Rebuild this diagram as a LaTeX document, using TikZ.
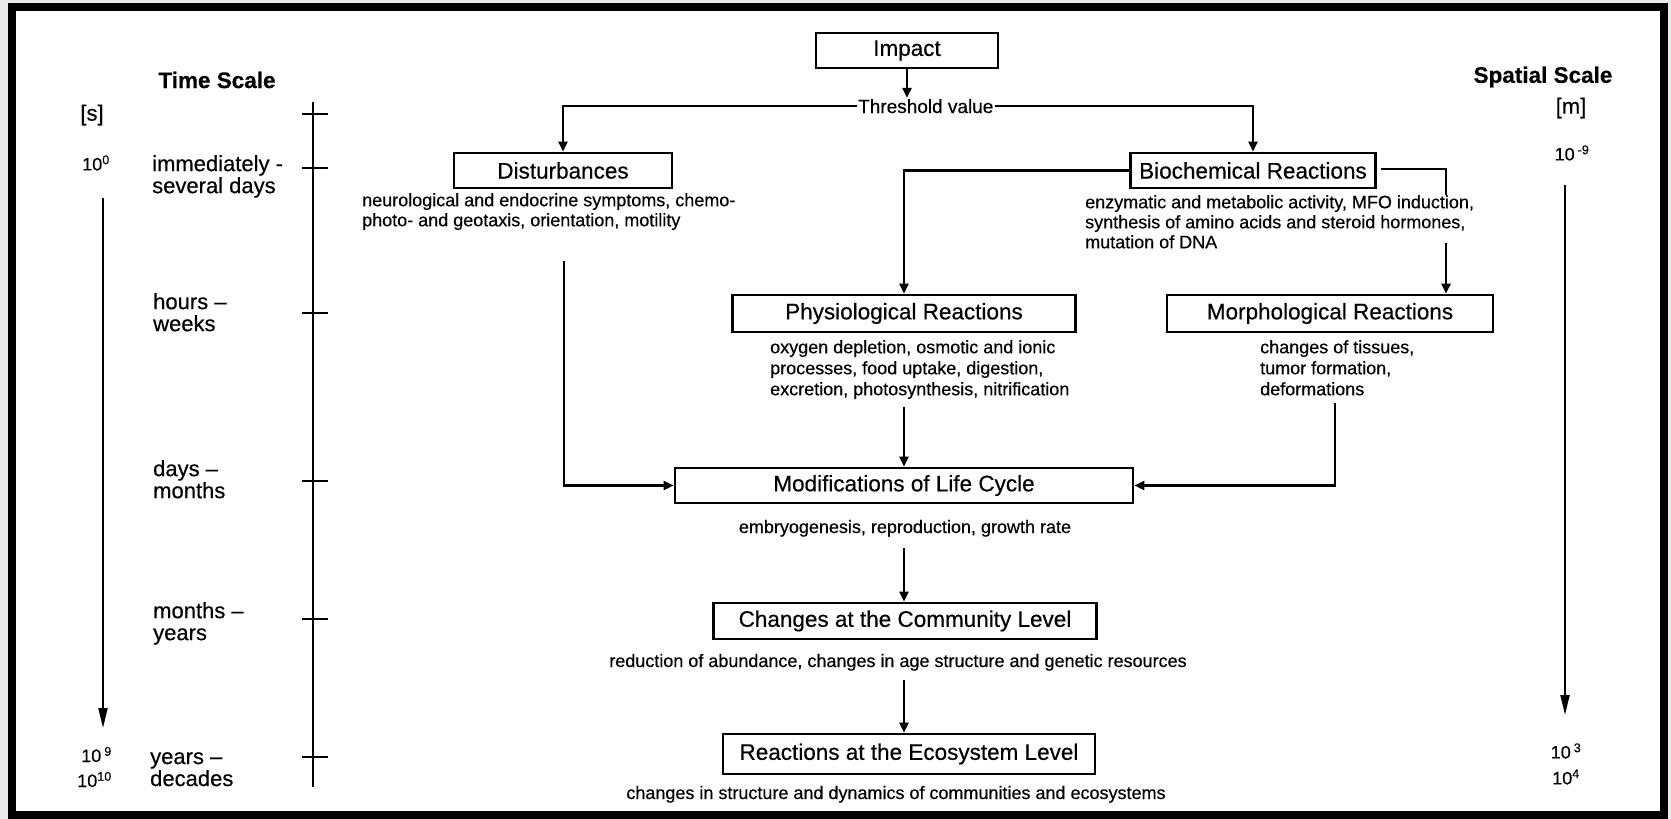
\documentclass[tikz,border=0pt]{standalone}
\usepackage{fontspec}
\setmainfont{Liberation Sans}[FakeBold=0.4]
\usetikzlibrary{arrows.meta}
\begin{document}
\begin{tikzpicture}[x=1pt,y=-1pt,
  box/.style={draw, line width=2.6pt, inner sep=0pt, font=\fontsize{22.5}{26}\selectfont},
  desc/.style={font=\fontsize{18}{20}\selectfont, align=left, inner sep=0pt},
  scalelbl/.style={font=\fontsize{22}{22}\selectfont, align=left, inner sep=0pt, anchor=north west},
  num/.style={font=\fontsize{18}{20}\selectfont, inner sep=0pt},
  head/.style={font=\bfseries\fontsize{22.5}{26}\selectfont, inner sep=0pt},
  conn/.style={line width=2.4pt},
  arr/.style={conn, -{Triangle[width=9pt,length=10pt]}},
  scalearr/.style={line width=2pt, -{Triangle[width=9pt,length=20pt]}},
  axisline/.style={line width=2.2pt},
]
\useasboundingbox (0,0) rectangle (1671,819);
\fill[black!8] (0,0) rectangle (1671,819);
\filldraw[fill=white, draw=black, line width=8pt] (12,7) rectangle (1664,815);

% ---- left time scale ----
\node[head] (tscale) at (217,80) {Time Scale};
\node[font=\fontsize{22}{24}\selectfont, inner sep=0pt] (sunit) at (92,115) {[s]};
\node[num] (t0) at (96,163) {10\textsuperscript{0}};
\node[num, anchor=base east] (t9) at (112,762) {10\,\textsuperscript{9}};
\node[num, anchor=base east] (t10) at (112,787) {10\textsuperscript{10}};
\coordinate (ta1) at (103,198);
\coordinate (ta2) at (103,728);
\draw[scalearr] (ta1) -- (ta2);

\node[scalelbl] (l1) at (152,155) {immediately -\\several days};
\node[scalelbl] (l2) at (153,293) {hours \textendash\\weeks};
\node[scalelbl] (l3) at (153,460) {days \textendash\\months};
\node[scalelbl] (l4) at (153,602) {months \textendash\\years};
\node[scalelbl] (l5) at (150,752) {years \textendash\\decades};

\draw[axisline] (313,102) -- (313,787);
\foreach \yy in {114,168,313,481,619,757}
  \draw[axisline] (302,\yy) -- (328,\yy);

% ---- right spatial scale ----
\node[head] (sscale) at (1543,77) {Spatial Scale};
\node[font=\fontsize{22}{24}\selectfont, inner sep=0pt] (munit) at (1571,108) {[m]};
\node[num] (s9) at (1572,153) {10\,\textsuperscript{-9}};
\node[num] (s3) at (1566,751) {10\,\textsuperscript{3}};
\node[num] (s4) at (1566,777) {10\textsuperscript{4}};
\coordinate (sa1) at (1565,185);
\coordinate (sa2) at (1565,715);
\draw[scalearr] (sa1) -- (sa2);

% ---- flow chart ----
\node[box, minimum width=182pt, minimum height=35pt] (impact) at (907,50.5) {Impact};
\node[font=\fontsize{19}{24}\selectfont, inner sep=1pt, text height=14pt, text depth=0pt, anchor=west] (thr) at (857,106) {Threshold value};

\node[box, minimum width=218pt, minimum height=35pt] (dist) at (563,170.5) {Disturbances};
\node[box, minimum width=245pt, minimum height=35pt] (bio) at (1253,170.5) {Biochemical Reactions};
\node[box, minimum width=343pt, minimum height=37pt] (phys) at (904,313.5) {Physiological Reactions};
\node[box, minimum width=326pt, minimum height=37pt] (morph) at (1330,313.5) {Morphological Reactions};
\node[box, minimum width=458pt, minimum height=35pt] (mod) at (904,485.5) {Modifications of Life Cycle};
\node[box, minimum width=383pt, minimum height=36pt] (comm) at (905,621) {Changes at the Community Level};
\node[box, minimum width=372pt, minimum height=40pt] (eco) at (909,754) {Reactions at the Ecosystem Level};

\node[desc, anchor=north west] (distd) at (362,193) {neurological and endocrine symptoms, chemo-\\photo- and geotaxis, orientation, motility};
\node[desc, anchor=north west] (biod) at (1085,195) {enzymatic and metabolic activity, MFO induction,\\synthesis of amino acids and steroid hormones,\\mutation of DNA};
\node[desc, anchor=north west, font=\fontsize{18}{21}\selectfont] (physd) at (770,340) {oxygen depletion, osmotic and ionic\\processes, food uptake, digestion,\\excretion, photosynthesis, nitrification};
\node[desc, anchor=north west, font=\fontsize{18}{21}\selectfont] (morphd) at (1260,340) {changes of tissues,\\tumor formation,\\deformations};
\node[desc, anchor=base] (modd) at (905,533) {embryogenesis, reproduction, growth rate};
\node[desc, anchor=base] (commd) at (898,667) {reduction of abundance, changes in age structure and genetic resources};
\node[desc, anchor=base] (ecod) at (896,799) {changes in structure and dynamics of communities and ecosystems};

% connectors
\draw[arr] (impact.south) -- (impact.south |- thr.north);
\draw[arr] (thr.west) -| (dist.north);
\draw[arr] (thr.east) -| (bio.north);
\draw[arr] (bio.west) -| (phys.north);
\coordinate (bb0) at (1381,169);
\coordinate (bb1) at (1446,195);
\coordinate (bb2) at (1446,243);
\draw[conn] (bb0) -| (bb1);
\draw[arr] (bb2) -- (bb2 |- morph.north);

\coordinate (dd1) at (564,261);
\draw[arr] (dd1) |- (mod.west);
\coordinate (pd1) at (904,407);
\draw[arr] (pd1) -- (pd1 |- mod.north);
\coordinate (md1) at (1335,403);
\draw[arr] (md1) |- (mod.east);
\coordinate (od1) at (904,548);
\draw[arr] (od1) -- (od1 |- comm.north);
\coordinate (cd1) at (904,680);
\draw[arr] (cd1) -- (cd1 |- eco.north);
\end{tikzpicture}
\end{document}
